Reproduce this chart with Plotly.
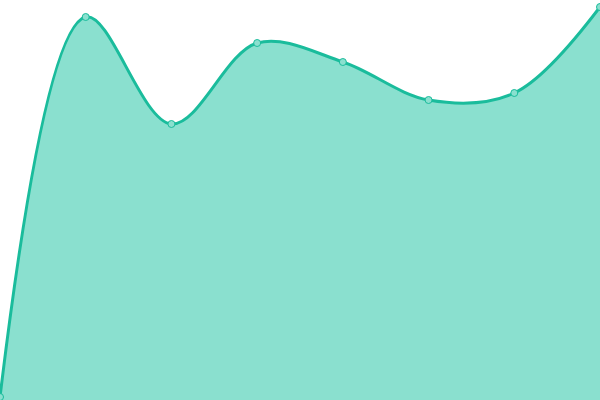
import plotly.graph_objects as go

# x positions (categories) and values
points = [0, 1, 2, 3, 4, 5, 6, 7]
values = [3, 383, 276, 357, 338, 300, 307, 393]

LINE = '#1abc9c'
FILL = '#8ae0cf'

fig = go.Figure()
fig.add_trace(go.Scatter(
    x=points,
    y=values,
    mode='lines+markers',
    fill='tozeroy',
    fillcolor=FILL,
    line=dict(color=LINE, width=3, shape='spline', smoothing=1),
    marker=dict(size=7, color=FILL, line=dict(color=LINE, width=1)),
    cliponaxis=False,
    showlegend=False,
))

fig.update_layout(
    width=600,
    height=400,
    margin=dict(l=0, r=0, t=0, b=0, autoexpand=False),
    paper_bgcolor='white',
    plot_bgcolor='white',
    xaxis=dict(range=[0, 7], visible=False, fixedrange=True),
    yaxis=dict(range=[0, 400], visible=False, fixedrange=True),
)

# page body has an 8px default margin, drop it so the chart fills the window
fig.write_html("out.html", config={'displayModeBar': False},
               post_script="document.body.style.margin='0';document.body.style.overflow='hidden';")
